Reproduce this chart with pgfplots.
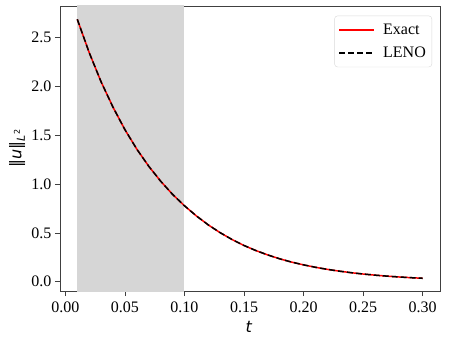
\documentclass[border=0pt]{standalone}
\usepackage{fontspec}
\setmainfont{Liberation Serif}
\newfontfamily\dejavu{DejaVu Sans}
\usepackage{pgfplots}
\pgfplotsset{compat=1.18}

\pgfplotstableread{
t      u
0.01   2.689
0.02   2.348
0.03   2.048
0.04   1.788
0.05   1.558
0.06   1.358
0.07   1.183
0.08   1.030
0.09   0.895
0.10   0.778
0.11   0.674
0.12   0.582
0.13   0.502
0.14   0.432
0.15   0.371
0.16   0.319
0.17   0.274
0.18   0.2345
0.19   0.201
0.20   0.1726
0.21   0.1479
0.22   0.1266
0.23   0.1083
0.24   0.0925
0.25   0.0789
0.26   0.0673
0.27   0.0573
0.28   0.0488
0.29   0.0415
0.30   0.0352
}\normtable

\begin{document}
\begin{tikzpicture}
\path[use as bounding box] (-60pt,-52pt) rectangle (389pt,291pt);
\begin{axis}[
  scale only axis,
  width=380pt, height=285pt,
  xmin=-0.0045, xmax=0.3145,
  ymin=-0.095, ymax=2.825,
  xtick={0,0.05,0.10,0.15,0.20,0.25,0.30},
  ytick={0,0.5,1.0,1.5,2.0,2.5},
  xticklabel style={/pgf/number format/.cd,fixed,fixed zerofill,precision=2},
  yticklabel style={/pgf/number format/.cd,fixed,fixed zerofill,precision=1},
  /pgf/number format/assume math mode=true,
  tick label style={font=\fontsize{16}{19}\selectfont},
  xticklabel shift=2pt,
  tick align=outside,
  major tick length=5pt,
  xtick pos=bottom, ytick pos=left,
  every tick/.style={black!75, line width=0.8pt},
  axis line style={black!75, line width=0.8pt},
  xlabel={{\dejavu\itshape t}},
  ylabel={{\dejavu ‖\textit{u}‖\raisebox{-0.4ex}{\fontsize{11}{12}\selectfont\textit{L}\raisebox{0.8ex}{\fontsize{8}{9}\selectfont 2}}}},
  xlabel style={at={(axis description cs:0.497,-0.126)}, anchor=center, font=\fontsize{16}{19}\selectfont},
  ylabel style={at={(axis description cs:-0.113,0.5)}, anchor=center, font=\fontsize{16}{19}\selectfont},
  legend style={at={(0.979,0.966)}, anchor=north east, draw=black!15, rounded corners=3pt,
    font=\fontsize{16}{19}\selectfont, row sep=7pt, column sep=6pt, inner xsep=4pt, inner ysep=6pt},
  legend cell align=left,
]
\fill[black!16] (axis cs:0.01,-1) rectangle (axis cs:0.10,4);
\addplot[red, line width=1.5pt, forget plot] table[x=t,y=u] {\normtable};
\addplot[black, line width=1.5pt, dash pattern=on 6pt off 3pt, forget plot] table[x=t,y=u] {\normtable};
\addlegendimage{legend image code/.code={\draw[red, line width=1.6pt] (0pt,0pt) -- (35pt,0pt);}}
\addlegendentry{Exact}
\addlegendimage{legend image code/.code={\draw[black, line width=1.5pt, dash pattern=on 6pt off 3pt] (0pt,0pt) -- (35pt,0pt);}}
\addlegendentry{LENO}
\end{axis}
\end{tikzpicture}
\end{document}
